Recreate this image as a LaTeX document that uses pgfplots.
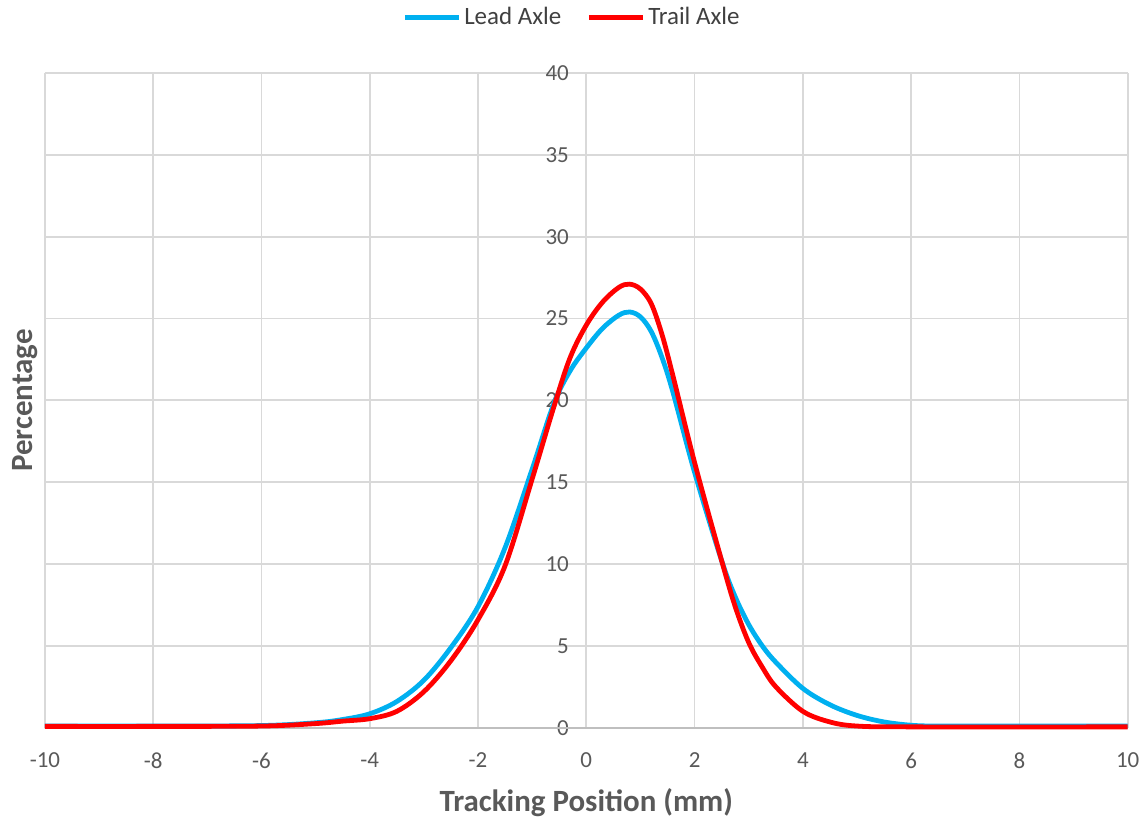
\documentclass[border=0pt]{standalone}
\usepackage{pgfplots}
\pgfplotsset{compat=1.18}
\usepackage{fontspec}
\setmainfont{Carlito}
\definecolor{leadc}{RGB}{0,176,240}
\definecolor{trailc}{RGB}{255,0,0}
\definecolor{txt}{RGB}{89,89,89}
\definecolor{legtxt}{RGB}{64,64,64}
\definecolor{gridc}{RGB}{217,217,217}
\begin{document}
\begin{tikzpicture}
\begin{axis}[
  scale only axis,
  width=542.5pt, height=328pt,
  xmin=-10, xmax=10, ymin=0, ymax=40,
  xtick={-10,-8,...,10}, ytick={0,5,...,40},
  grid=major,
  major grid style={gridc, line width=0.9pt},
  axis line style={draw=none},
  tick style={draw=none},
  /pgf/number format/assume math mode=true,
  ticklabel style={font=\fontsize{11.5}{13}\selectfont, text=txt},
  xticklabel style={yshift=-9pt},
  yticklabel style={anchor=east, xshift=266pt},
  every axis x label/.style={at={(rel axis cs:0.5,0)}, anchor=center, yshift=-37.5pt},
  every axis y label/.style={at={([xshift=-10pt]rel axis cs:0,0.5)}, rotate=90, anchor=center},
  xlabel={\bfseries Tracking Position (mm)},
  ylabel={\bfseries Percentage},
  label style={font=\fontsize{15.5}{17}\selectfont, text=txt},
  legend style={at={(rel axis cs:0.5,1)}, anchor=center, yshift=28pt, xshift=-7pt, draw=none, fill=none,
    font=\fontsize{12.5}{14}\selectfont, text=legtxt,
    nodes={inner sep=1.5pt},
    /tikz/every even column/.append style={column sep=11pt}},
  legend columns=2,
  legend cell align=left,
  legend image code/.code={\draw[#1, line width=2.6pt] (0,0) -- (27pt,0);},
  clip=false,
]
\draw[color={rgb,255:red,191;green,191;blue,191}, line width=0.9pt] (axis cs:-10,0) -- (axis cs:10,0);
\addplot[leadc, line width=2.4pt, smooth, tension=0.55] coordinates {
(-10,0.1) (-8,0.1) (-6,0.13) (-5,0.3) (-4.5,0.5) (-4,0.85) (-3.5,1.6) (-3,2.9) (-2.5,4.9) (-2,7.4) (-1.5,11.0) (-1,15.8) (-0.6,19.8) (-0.3,21.8) (0,23.2) (0.3,24.4) (0.6,25.2) (0.8,25.4) (1.0,25.1) (1.2,24.2) (1.4,22.6) (1.6,20.5) (2,15.6) (2.5,10.2) (2.75,8.0) (3,6.3) (3.25,5.0) (3.5,4.0) (4,2.4) (4.5,1.4) (5,0.75) (5.5,0.35) (6,0.15) (6.5,0.1) (8,0.1) (10,0.1)
};
\addlegendentry{Lead Axle}
\addplot[trailc, line width=2.4pt, smooth, tension=0.55] coordinates {
(-10,0.08) (-8,0.08) (-6,0.1) (-5,0.25) (-4.5,0.4) (-4,0.55) (-3.5,1.0) (-3,2.2) (-2.5,4.1) (-2,6.6) (-1.5,9.9) (-1,15.2) (-0.6,19.6) (-0.3,22.6) (0,24.6) (0.3,26.0) (0.6,26.9) (0.8,27.1) (1.0,26.8) (1.2,25.9) (1.4,24.0) (1.6,21.5) (2,16.2) (2.5,10.2) (2.75,7.4) (3,5.2) (3.25,3.7) (3.5,2.5) (4,1.0) (4.5,0.35) (5,0.1) (6,0.05) (10,0.05)
};
\addlegendentry{Trail Axle}
\end{axis}
\path ([xshift=-22.5pt]current axis.south west);
\end{tikzpicture}
\end{document}
